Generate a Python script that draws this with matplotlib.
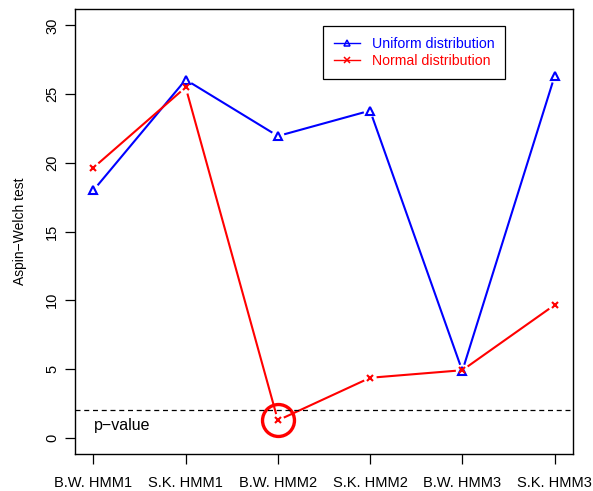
import matplotlib
matplotlib.use("Agg")
import matplotlib.pyplot as plt
import numpy as np

plt.rcParams['font.family'] = ['Liberation Sans', 'DejaVu Sans']

# data
methods = ["B.W. HMM1", "S.K. HMM1", "B.W. HMM2", "S.K. HMM2", "B.W. HMM3", "S.K. HMM3"]
uniform = [18.0, 26.05, 21.95, 23.8, 4.85, 26.3]
normal = [19.65, 25.5, 1.25, 4.35, 4.9, 9.65]
p_value = 2.0
yticks = [0, 5, 10, 15, 20, 25, 30]

W, H = 593, 491
fig = plt.figure(figsize=(W / 100, H / 100), dpi=100)
ax = fig.add_axes([75 / W, (H - 454) / H, (573 - 75) / W, (454 - 9) / H])

x = np.arange(1, len(methods) + 1)
ax.set_xlim(0.8, 6.2)
ax.set_ylim(-1.2, 31.2)


def gapped_line(xs, ys, color, gap=6.5):
    # R type="b": segments stop short of the points
    pts = ax.transData.transform(np.column_stack([xs, ys]))
    inv = ax.transData.inverted()
    for p0, p1 in zip(pts[:-1], pts[1:]):
        d = p1 - p0
        L = np.hypot(*d)
        if L <= 2 * gap:
            continue
        u = d / L
        a = inv.transform(p0 + u * gap)
        b = inv.transform(p1 - u * gap)
        ax.plot([a[0], b[0]], [a[1], b[1]], color=color, lw=1.5, solid_capstyle='butt')


gapped_line(x, uniform, 'blue')
gapped_line(x, normal, 'red')
ax.plot(x, uniform, ls='none', marker='^', ms=5.5, mfc='none', mec='blue', mew=1.5)
ax.plot(x, normal, ls='none', marker='x', ms=4.5, mec='red', mew=1.5)

# highlight circle around the significant point
ax.plot(x[2], normal[2], ls='none', marker='o', ms=23, mfc='none', mec='red', mew=2.4)

ax.axhline(p_value, color='black', lw=0.9, ls=(0, (4, 3)))
ax.text(1.0, 0.85, "p\u2212value", fontsize=11.5, ha='left', va='center')

ax.set_xticks(x)
ax.set_xticklabels(methods, fontsize=10.5)
ax.set_yticks(yticks)
ax.set_yticklabels([str(t) for t in yticks], rotation=90, va='center', fontsize=10.5)
ax.set_ylabel("Aspin\u2212Welch test", fontsize=10, labelpad=13)
ax.tick_params(axis='both', length=7, width=0.9)
ax.tick_params(axis='x', pad=9)
ax.tick_params(axis='y', pad=4.5)

for s in ax.spines.values():
    s.set_linewidth(1.0)

# legend, R style
h1, = ax.plot([], [], color='blue', lw=1, marker='^', ms=5, mfc='none', mec='blue', mew=1.1)
h2, = ax.plot([], [], color='red', lw=1, marker='x', ms=4.5, mec='red', mew=1.1)
leg = ax.legend([h1, h2], ["Uniform distribution", "Normal distribution"],
                loc='upper left', bbox_to_anchor=(0.498, 0.962), fontsize=10.2,
                fancybox=False, framealpha=1, edgecolor='black', handlelength=1.85,
                borderpad=0.75, labelspacing=0.25, handletextpad=0.85, borderaxespad=0)
leg.get_frame().set_linewidth(0.9)
leg.get_texts()[0].set_color('blue')
leg.get_texts()[1].set_color('red')

fig.savefig("out.png", dpi=100)
